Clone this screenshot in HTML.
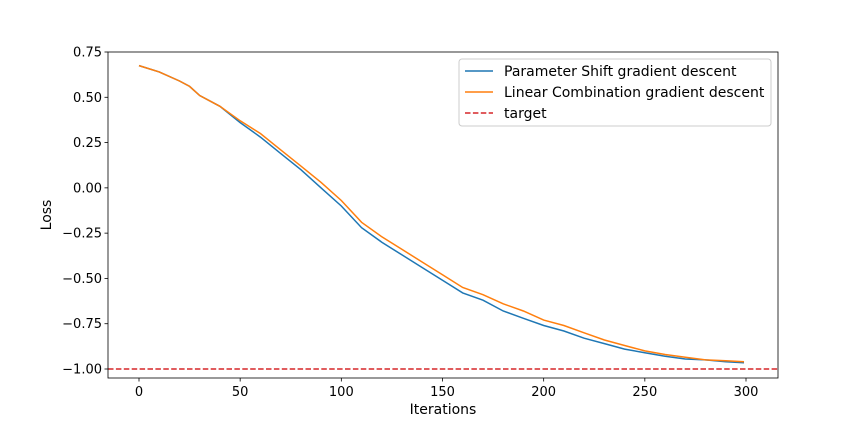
<!DOCTYPE html>
<html><head><meta charset="utf-8"><style>
body{margin:0;background:#fff;}
svg{display:block;font-family:"DejaVu Sans","Liberation Sans",sans-serif;}
</style></head><body>
<svg id="chart" width="864" height="432"></svg>
<script>
const iterations=[0,10,20,25,30,40,50,60,70,80,90,100,110,120,130,140,150,160,170,180,190,200,210,220,230,240,250,260,270,280,290,299];
const psLoss=[0.675,0.64,0.59,0.56,0.51,0.45,0.36,0.28,0.19,0.10,0.0,-0.10,-0.22,-0.30,-0.37,-0.44,-0.51,-0.58,-0.62,-0.68,-0.72,-0.76,-0.79,-0.83,-0.86,-0.89,-0.91,-0.93,-0.945,-0.95,-0.96,-0.965];
const lcLoss=[0.675,0.64,0.59,0.56,0.51,0.45,0.37,0.30,0.21,0.12,0.03,-0.07,-0.19,-0.27,-0.34,-0.41,-0.48,-0.55,-0.59,-0.64,-0.68,-0.73,-0.76,-0.80,-0.84,-0.87,-0.90,-0.92,-0.935,-0.95,-0.955,-0.96];
const targetValue=-1.0;
const xTicks=[0,50,100,150,200,250,300];
const yTicks=[0.75,0.5,0.25,0,-0.25,-0.5,-0.75,-1.0];
const yTickLabels=["0.75","0.50","0.25","0.00","\u22120.25","\u22120.50","\u22120.75","\u22121.00"];

const L=108,R=778,T=52,B=378;
const xs=v=>139+v*(746-139)/300;
const ys=v=>52+(0.75-v)*(369-52)/1.75;
const svg=document.getElementById('chart');
const NS='http://www.w3.org/2000/svg';
function mk(tag,attrs,parent){const e=document.createElementNS(NS,tag);for(const k in attrs)e.setAttribute(k,attrs[k]);(parent||svg).appendChild(e);return e;}

const tl=mk('line',{x1:L,x2:R,y1:ys(targetValue),y2:ys(targetValue),stroke:'#d62728','stroke-width':1.5,'stroke-dasharray':'5.5,2.4'});



function series(data,color,name){
  const d=data.map((v,i)=>(i?'L':'M')+xs(iterations[i]).toFixed(1)+','+ys(v).toFixed(1)).join(' ');
  const p=mk('path',{d:d,fill:'none',stroke:color,'stroke-width':1.5});
  
  
}
series(psLoss,'#1f77b4','parameter-shift-line');
series(lcLoss,'#ff7f0e','linear-combination-line');

const frame=mk('rect',{x:L,y:T,width:R-L,height:B-T,fill:'none',stroke:'#000','stroke-width':0.8});



xTicks.forEach(v=>{
  mk('line',{x1:xs(v),x2:xs(v),y1:B,y2:B+3.5,stroke:'#000','stroke-width':0.8});
  const t=mk('text',{x:xs(v),y:B+18,'text-anchor':'middle','font-size':13});
  t.textContent=v;
  
  
});
yTicks.forEach((v,i)=>{
  mk('line',{x1:L-3.5,x2:L,y1:ys(v),y2:ys(v),stroke:'#000','stroke-width':0.8});
  const t=mk('text',{x:L-6,y:ys(v)+4.5,'text-anchor':'end','font-size':13});
  t.textContent=yTickLabels[i];
  
  
});
const xt=mk('text',{x:(L+R)/2,y:414,'text-anchor':'middle','font-size':14});
xt.textContent='Iterations';


const yt=mk('text',{x:0,y:0,'text-anchor':'middle','font-size':14,transform:'translate(51,215) rotate(-90)'});
yt.textContent='Loss';



const lg=mk('g',{});


mk('rect',{x:459,y:59,width:312,height:67,rx:3,fill:'#fff','fill-opacity':0.8,stroke:'#ccc'},lg);
const entries=[['Parameter Shift gradient descent','#1f77b4',null],['Linear Combination gradient descent','#ff7f0e',null],['target','#d62728','5.5,2.4']];
entries.forEach((e,i)=>{
  const y=71+i*21;
  const g=mk('g',{},lg);
  
  
  const a={x1:465,x2:493,y1:y,y2:y,stroke:e[1],'stroke-width':1.5};
  if(e[2])a['stroke-dasharray']=e[2];
  mk('line',a,g);
  const t=mk('text',{x:504,y:y+5,'font-size':14},g);
  t.textContent=e[0];
});
</script>
</body></html>
